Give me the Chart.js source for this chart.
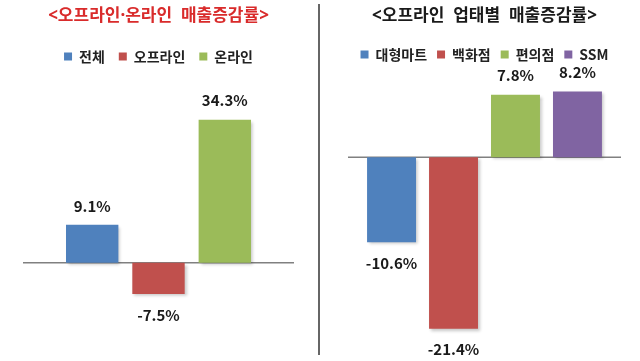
<!DOCTYPE html>
<html>
<head>
<meta charset="utf-8">
<script src="https://cdn.jsdelivr.net/npm/chart.js@4/dist/chart.umd.min.js"></script>
<style>
  html, body { margin: 0; padding: 0; background: #fff; }
  #wrap { position: relative; width: 640px; height: 361px; }
  #left { position: absolute; left: 0; top: 0; }
  #right { position: absolute; left: 320px; top: 0; }
  #sep { position: absolute; left: 318px; top: 4px; width: 0; height: 351px; border-left: 2px solid #666; }
</style>
</head>
<body>
<div id="wrap">
  <canvas id="left" width="318" height="361"></canvas>
  <div id="sep"></div>
  <canvas id="right" width="320" height="361"></canvas>
</div>
<script>
// left chart: offline vs online
var leftTitle = '<오프라인·온라인  매출증감률>';
var leftNames = ['전체', '오프라인', '온라인'];
var leftValues = [9.1, -7.5, 34.3];
var leftColors = ['#4F81BD', '#C0504D', '#9BBB59'];

// right chart: by store type
var rightTitle = '<오프라인  업태별  매출증감률>';
var rightNames = ['대형마트', '백화점', '편의점', 'SSM'];
var rightValues = [-10.6, -21.4, 7.8, 8.2];
var rightColors = ['#4F81BD', '#C0504D', '#9BBB59', '#8064A2'];

var FONT = "'Noto Sans CJK KR', 'Noto Sans', sans-serif";
var TITLE_FONT = "'Noto Sans', 'Noto Sans CJK KR', sans-serif";

// draws the zero line and the value labels
var zeroLine = {
  id: 'zeroLine',
  beforeDatasetsDraw(chart) {
    var ctx = chart.ctx, a = chart.chartArea;
    var y = chart.scales.y.getPixelForValue(0);
    ctx.save();
    ctx.strokeStyle = '#808080';
    ctx.lineWidth = 1.5;
    ctx.beginPath();
    ctx.moveTo(a.left, y);
    ctx.lineTo(a.right, y);
    ctx.stroke();
    ctx.restore();
  }
};

var valueLabels = {
  id: 'valueLabels',
  afterDatasetsDraw(chart) {
    var ctx = chart.ctx;
    ctx.save();
    ctx.font = 'bold 15px ' + FONT;
    ctx.fillStyle = '#1a1a1a';
    ctx.textAlign = 'center';
    ctx.textBaseline = 'middle';
    chart.data.datasets.forEach(function(ds, i) {
      var el = chart.getDatasetMeta(i).data[0];
      var v = ds.data[0];
      var y = v >= 0 ? el.y - 19 : el.y + 21;
      ctx.fillText(v.toFixed(1) + '%', el.x, y);
    });
    ctx.restore();
  }
};

var shadow = {
  id: 'shadow',
  beforeDatasetDraw(chart) {
    var ctx = chart.ctx;
    ctx.save();
    ctx.shadowColor = 'rgba(0,0,0,0.22)';
    ctx.shadowBlur = 3;
    ctx.shadowOffsetX = 2;
    ctx.shadowOffsetY = 2;
  },
  afterDatasetDraw(chart) {
    chart.ctx.restore();
  }
};

function makeChart(id, title, titleColor, names, values, colors, opts) {
  var datasets = names.map(function(n, i) {
    return {
      label: n,
      data: [values[i]],
      backgroundColor: colors[i],
      borderWidth: 0,
      barPercentage: 0.79,
      categoryPercentage: opts.catPct
    };
  });
  return new Chart(document.getElementById(id), {
    type: 'bar',
    data: { labels: [''], datasets: datasets },
    options: {
      responsive: false,
      animation: false,
      layout: { padding: { left: opts.padL, right: opts.padR, top: 0, bottom: 21 } },
      plugins: {
        title: {
          display: true,
          text: title,
          color: titleColor,
          font: { family: TITLE_FONT, size: 17, weight: 'bold' },
          padding: { top: 6, bottom: opts.titleGap }
        },
        legend: {
          display: true,
          labels: {
            color: '#222',
            boxWidth: 8,
            boxHeight: 8,
            padding: opts.legPad,
            font: { family: FONT, size: 14, weight: 'bold' }
          }
        },
        tooltip: { enabled: false }
      },
      scales: {
        x: { display: false },
        y: { display: false, min: opts.min, max: opts.max }
      }
    },
    plugins: [zeroLine, shadow, valueLabels]
  });
}

makeChart('left', leftTitle, '#D92B2B', leftNames, leftValues, leftColors,
  { padL: 23, padR: 24, catPct: 0.734, min: -18.5, max: 45.4, legPad: 14, titleGap: 9 });
makeChart('right', rightTitle, '#1a1a1a', rightNames, rightValues, rightColors,
  { padL: 28, padR: 19, catPct: 0.908, min: -22.8, max: 10.7, legPad: 10, titleGap: 11 });
</script>
</body>
</html>
